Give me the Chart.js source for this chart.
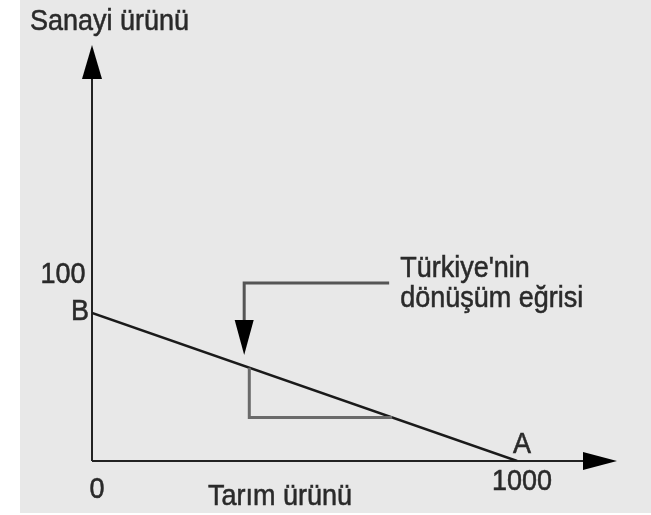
<!DOCTYPE html>
<html>
<head>
<meta charset="utf-8">
<script src="https://cdn.jsdelivr.net/npm/chart.js@4/dist/chart.umd.min.js"></script>
<style>
  html, body { margin: 0; padding: 0; background: #ffffff; }
  #bg { position: absolute; left: 20px; top: 0; width: 631px; height: 513px; background: #e8e8e8; }
  #c { position: absolute; left: 0; top: 0; }
</style>
</head>
<body>
<div id="bg"></div>
<canvas id="c" width="651" height="515"></canvas>
<script>
// ---- Data ----
const curveX = [0, 1000];          // Tarım ürünü
const curveY = [100, 0];           // Sanayi ürünü
const triX = [370, 370, 706];      // slope triangle
const triY = [63, 29.4, 29.4];
const calloutX = [699, 358, 358];  // callout leader (data units)
const calloutY = [120.3, 120.3, 71.6];
const xTickValues = [0, 1000];
const xTickLabels = ['0', '1000'];
const yTickValues = [100];
const yTickLabels = ['100'];
const pointLabels = ['B', 'A'];
const xTitle = 'Tarım ürünü';
const yTitle = 'Sanayi ürünü';
const noteLines = ["Türkiye'nin", 'dönüşüm eğrisi'];

function pts(xs, ys) { return xs.map((x, i) => ({ x: x, y: ys[i] })); }

const FONT = '27px "Liberation Sans", Arial, sans-serif';
const TXT = '#2a2a2a';
const SY = 1.12;

function txt(ctx, s, x, y, align) {
  ctx.save();
  ctx.translate(x, y);
  ctx.scale(1, SY);
  ctx.textAlign = align || 'left';
  ctx.textBaseline = 'alphabetic';
  ctx.fillStyle = TXT;
  ctx.strokeStyle = TXT;
  ctx.lineWidth = 0.5;
  ctx.font = FONT;
  ctx.fillText(s, 0, 0);
  ctx.strokeText(s, 0, 0);
  ctx.restore();
}

function arrowHead(ctx, tipX, tipY, baseX1, baseY1, baseX2, baseY2, color) {
  ctx.beginPath();
  ctx.moveTo(tipX, tipY);
  ctx.lineTo(baseX1, baseY1);
  ctx.lineTo(baseX2, baseY2);
  ctx.closePath();
  ctx.fillStyle = color;
  ctx.fill();
}

const decor = {
  id: 'decor',
  beforeDatasetsDraw(chart) {
    const ctx = chart.ctx;
    const a = chart.chartArea;
    ctx.save();
    // axes
    ctx.strokeStyle = '#222';
    ctx.lineWidth = 2;
    ctx.beginPath();
    ctx.moveTo(a.left, a.bottom);
    ctx.lineTo(a.left, a.top + 34);
    ctx.moveTo(a.left, a.bottom);
    ctx.lineTo(a.right - 34, a.bottom);
    ctx.stroke();
    arrowHead(ctx, a.left, a.top, a.left - 10, a.top + 34, a.left + 10, a.top + 34, '#000');
    arrowHead(ctx, a.right, a.bottom, a.right - 34, a.bottom - 9, a.right - 34, a.bottom + 9, '#000');
    ctx.restore();
  },
  afterDatasetsDraw(chart) {
    const ctx = chart.ctx;
    const a = chart.chartArea;
    const xs = chart.scales.x, ys = chart.scales.y;
    ctx.save();
    // callout arrow head
    const tx = xs.getPixelForValue(calloutX[2]);
    const ty = ys.getPixelForValue(calloutY[2]);
    arrowHead(ctx, tx, ty, tx - 9.5, ty - 35, tx + 9.5, ty - 35, '#000');
    // texts
    txt(ctx, yTitle, 30, 30, 'left');
    txt(ctx, xTitle, 208, 505, 'left');
    yTickValues.forEach((v, i) => {
      txt(ctx, yTickLabels[i], a.left - 29, ys.getPixelForValue(v) - 30, 'center');
    });
    xTickValues.forEach((v, i) => {
      const px = xs.getPixelForValue(v);
      if (v === 0) txt(ctx, xTickLabels[i], px + 5, a.bottom + 37, 'center');
      else txt(ctx, xTickLabels[i], px + 5, a.bottom + 29, 'center');
    });
    // point labels
    txt(ctx, pointLabels[0], xs.getPixelForValue(curveX[0]) - 12, ys.getPixelForValue(curveY[0]) + 7, 'center');
    txt(ctx, pointLabels[1], xs.getPixelForValue(curveX[1]) + 5, ys.getPixelForValue(curveY[1]) - 8, 'center');
    // note
    const nx = xs.getPixelForValue(calloutX[0]) + 11;
    const ny = ys.getPixelForValue(calloutY[0]);
    txt(ctx, noteLines[0], nx, ny - 6, 'left');
    txt(ctx, noteLines[1], nx, ny + 24, 'left');
    ctx.restore();
  }
};

new Chart(document.getElementById('c'), {
  type: 'scatter',
  data: {
    datasets: [
      {
        data: pts(triX, triY),
        showLine: true,
        borderColor: '#6a6a6a',
        borderWidth: 3,
        pointRadius: 0,
        tension: 0
      },
      {
        data: pts(curveX, curveY),
        showLine: true,
        borderColor: '#1a1a1a',
        borderWidth: 2.5,
        pointRadius: 0,
        tension: 0
      },
      {
        data: pts(calloutX, calloutY.map((v, i) => i === 2 ? v + 23.6 : v)),
        showLine: true,
        borderColor: '#555',
        borderWidth: 3,
        pointRadius: 0,
        tension: 0
      }
    ]
  },
  options: {
    responsive: false,
    animation: false,
    devicePixelRatio: 1,
    layout: { padding: { left: 92, right: 34, top: 45, bottom: 54 } },
    plugins: { legend: { display: false }, tooltip: { enabled: false } },
    scales: {
      x: { type: 'linear', min: 0, max: 1235, display: false },
      y: { type: 'linear', min: 0, max: 281, display: false }
    }
  },
  plugins: [decor]
});
</script>
</body>
</html>
